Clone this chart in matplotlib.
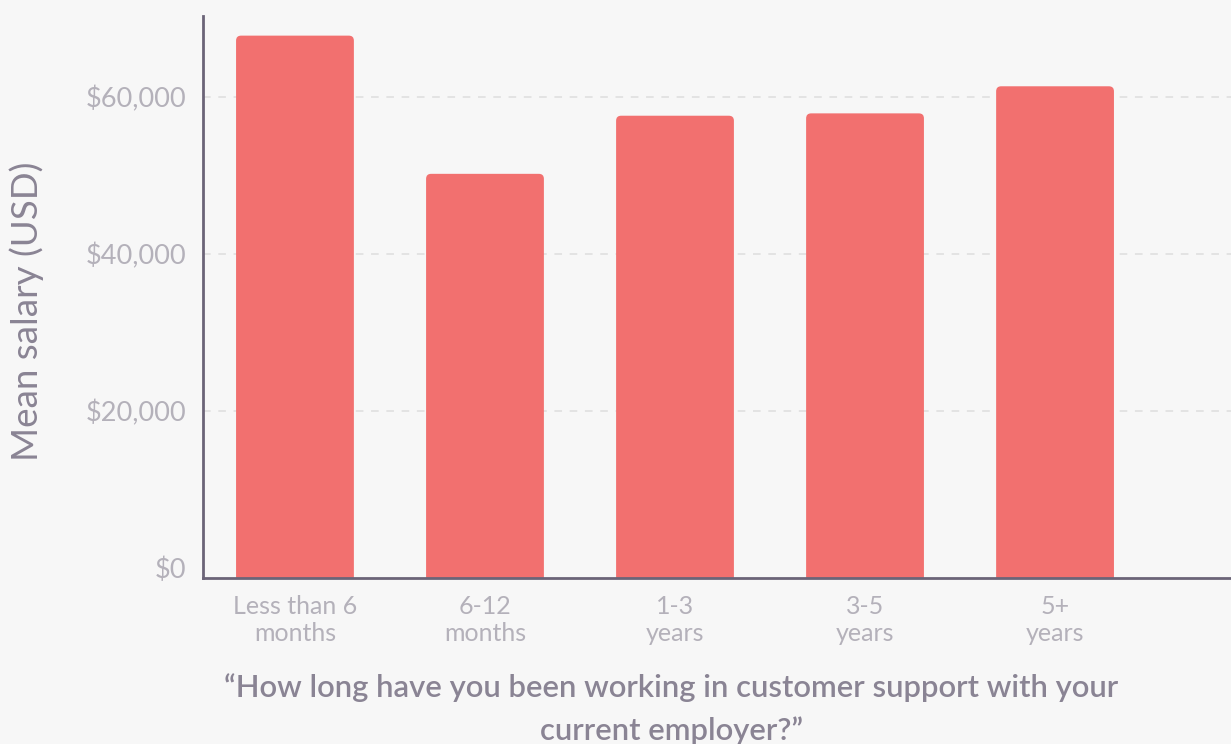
import matplotlib
matplotlib.use("Agg")
import matplotlib.pyplot as plt
from matplotlib.patches import FancyBboxPatch
from matplotlib.ticker import FuncFormatter

categories = ["Less than 6\nmonths", "6-12\nmonths", "1-3\nyears", "3-5\nyears", "5+\nyears"]
mean_salary = [67800, 50200, 57600, 57900, 61350]
y_ticks = [0, 20000, 40000, 60000]

BG = "#f7f7f7"
BAR = "#f2706f"
AXIS = "#6b6478"
TICK_TXT = "#b4b1ba"
LABEL_TXT = "#8a8494"

plt.rcParams["font.family"] = ["Lato", "DejaVu Sans"]

fig = plt.figure(figsize=(12.31, 7.44), dpi=100, facecolor=BG)
ax = fig.add_axes([203 / 1231, 166 / 744, 1028 / 1231, 562 / 744], facecolor=BG)

ymin, ymax = -1270, 70300
xs = list(range(len(categories)))
bars = ax.bar(xs, mean_salary, width=0.62, color=BAR, zorder=2)

# swap the plain rectangles for ones with rounded top corners
px_per_x = 190.0
px_per_y = 7.85 / 1000
r_x = 5 / px_per_x
for b in bars:
    x0, w, h = b.get_x(), b.get_width(), b.get_height()
    b.set_visible(False)
    bottom = ymin - 4000
    patch = FancyBboxPatch((x0, bottom), w, h - bottom,
                           boxstyle=f"round,pad=0,rounding_size={r_x}",
                           mutation_aspect=(5 / px_per_y) / r_x,
                           facecolor=BAR, edgecolor="none", zorder=2)
    ax.add_patch(patch)

ax.set_xlim(-0.484, 4.926)
ax.set_ylim(ymin, ymax)

ax.set_yticks(y_ticks)
ax.yaxis.set_major_formatter(FuncFormatter(lambda v, p: f"${v:,.0f}"))
ax.set_xticks(xs)
ax.set_xticklabels(categories, linespacing=1.25)

ax.tick_params(axis="y", length=0, pad=12, labelsize=19.5, labelcolor=TICK_TXT)
ax.tick_params(axis="x", length=0, pad=12, labelsize=18, labelcolor=TICK_TXT)

for t in y_ticks[1:]:
    ax.axhline(t, color="#dedede", lw=1.1, ls=(0, (5, 5)), zorder=1)

for s in ["top", "right"]:
    ax.spines[s].set_visible(False)
for s in ["left", "bottom"]:
    ax.spines[s].set_color(AXIS)
    ax.spines[s].set_linewidth(2)
    ax.spines[s].set_zorder(3)

fig.text(27 / 1231, 1 - 311 / 744, "Mean salary (USD)", rotation=90,
         ha="center", va="center", fontsize=26.5, color=LABEL_TXT)
fig.text(671 / 1231, 1 - 709 / 744,
         "\u201cHow long have you been working in customer support with your\ncurrent employer?\u201d",
         ha="center", va="center", fontsize=22.3, color=LABEL_TXT,
         fontweight="semibold", linespacing=1.6)

fig.savefig("out.png", dpi=100, facecolor=BG)
